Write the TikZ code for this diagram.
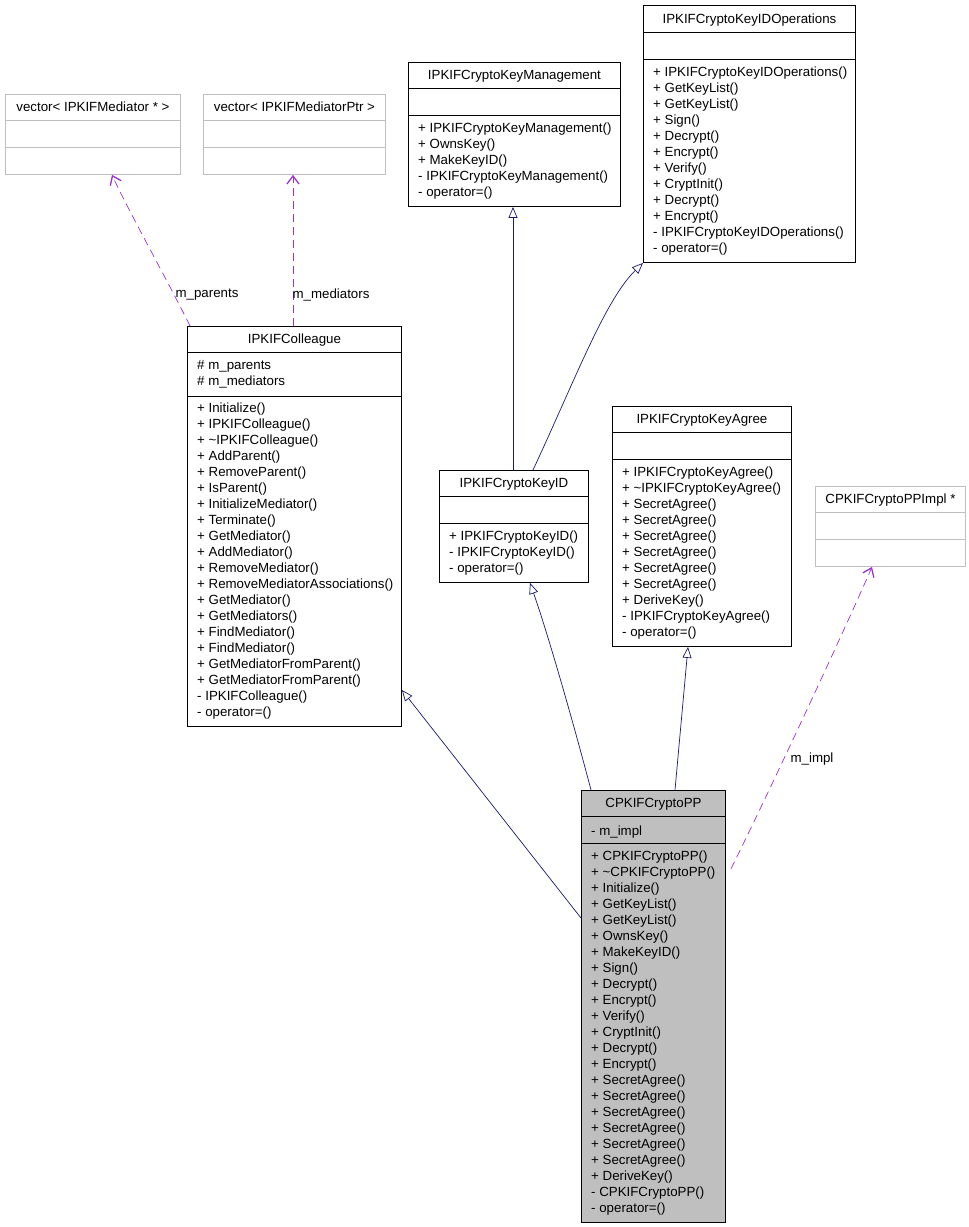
\documentclass[tikz,border=0pt]{standalone}
\usepackage{fontspec}
\setmainfont{Liberation Sans}
\usetikzlibrary{arrows.meta}
\definecolor{inhblue}{HTML}{191970}
\definecolor{usepurple}{HTML}{9A32CD}
\definecolor{lightframe}{HTML}{BFBFBF}
\definecolor{selfgray}{HTML}{BFBFBF}
\begin{document}
\begin{tikzpicture}[x=1pt, y=-1pt, font=\fontsize{13.3}{16}\selectfont,
  classbox/.style={draw, anchor=north west, inner sep=0pt, line width=0.9pt},
  extbox/.style={classbox, draw=lightframe},
  title/.style={anchor=base, inner sep=0pt},
  members/.style={anchor=north west, inner sep=0pt, align=left, execute at begin node=\rule{0pt}{11pt}},
  inherit/.style={draw=inhblue, line width=0.7pt, -{Triangle[open, length=11pt, width=9pt]}},
  uses/.style={draw=usepurple, line width=0.7pt, dash pattern=on 8pt off 5pt, -{Straight Barb[length=8pt, width=12pt, line width=1.3pt]}},
  lbl/.style={inner sep=1pt}]
  \useasboundingbox (0,0) rectangle (969,1227);

  % external containers
  \node[extbox, minimum width=175pt, minimum height=80pt] (vecmed) at (5,94) {};
  \draw[lightframe, line width=0.9pt] ([yshift=-26pt]vecmed.north west) -- ([yshift=-26pt]vecmed.north east);
  \draw[lightframe, line width=0.9pt] ([yshift=-53pt]vecmed.north west) -- ([yshift=-53pt]vecmed.north east);
  \node[title] at ([yshift=-17.5pt]vecmed.north) {vector< IPKIFMediator * >};

  \node[extbox, minimum width=182pt, minimum height=80pt] (vecptr) at (203,94) {};
  \draw[lightframe, line width=0.9pt] ([yshift=-26pt]vecptr.north west) -- ([yshift=-26pt]vecptr.north east);
  \draw[lightframe, line width=0.9pt] ([yshift=-53pt]vecptr.north west) -- ([yshift=-53pt]vecptr.north east);
  \node[title] at ([yshift=-17.5pt]vecptr.north) {vector< IPKIFMediatorPtr >};

  \node[extbox, minimum width=150pt, minimum height=80pt] (impl) at (815,486) {};
  \draw[lightframe, line width=0.9pt] ([yshift=-26pt]impl.north west) -- ([yshift=-26pt]impl.north east);
  \draw[lightframe, line width=0.9pt] ([yshift=-53pt]impl.north west) -- ([yshift=-53pt]impl.north east);
  \node[title] at ([yshift=-17.5pt]impl.north) {CPKIFCryptoPPImpl *};

  % IPKIFCryptoKeyManagement
  \node[classbox, minimum width=212pt, minimum height=144pt] (mgmt) at (408,62) {};
  \draw[line width=0.9pt] ([yshift=-26pt]mgmt.north west) -- ([yshift=-26pt]mgmt.north east);
  \draw[line width=0.9pt] ([yshift=-53pt]mgmt.north west) -- ([yshift=-53pt]mgmt.north east);
  \node[title] at ([yshift=-17.5pt]mgmt.north) {IPKIFCryptoKeyManagement};
  \node[members] at ([xshift=10pt, yshift=-60.5pt]mgmt.north west)
    {+ IPKIFCryptoKeyManagement()\\+ OwnsKey()\\+ MakeKeyID()\\- IPKIFCryptoKeyManagement()\\- operator=()};

  % IPKIFCryptoKeyIDOperations
  \node[classbox, minimum width=212pt, minimum height=257pt] (ops) at (643,5) {};
  \draw[line width=0.9pt] ([yshift=-27pt]ops.north west) -- ([yshift=-27pt]ops.north east);
  \draw[line width=0.9pt] ([yshift=-54pt]ops.north west) -- ([yshift=-54pt]ops.north east);
  \node[title] at ([yshift=-18.5pt]ops.north) {IPKIFCryptoKeyIDOperations};
  \node[members] at ([xshift=10pt, yshift=-61.5pt]ops.north west)
    {+ IPKIFCryptoKeyIDOperations()\\+ GetKeyList()\\+ GetKeyList()\\+ Sign()\\+ Decrypt()\\+ Encrypt()\\+ Verify()\\+ CryptInit()\\+ Decrypt()\\+ Encrypt()\\- IPKIFCryptoKeyIDOperations()\\- operator=()};

  % IPKIFColleague
  \node[classbox, minimum width=214pt, minimum height=400pt] (colleague) at (187,326) {};
  \draw[line width=0.9pt] ([yshift=-26pt]colleague.north west) -- ([yshift=-26pt]colleague.north east);
  \draw[line width=0.9pt] ([yshift=-70pt]colleague.north west) -- ([yshift=-70pt]colleague.north east);
  \node[title] at ([yshift=-17.5pt]colleague.north) {IPKIFColleague};
  \node[members] at ([xshift=10pt, yshift=-34.5pt]colleague.north west)
    {\# m\_parents\\\# m\_mediators};
  \node[members] at ([xshift=10pt, yshift=-76.5pt]colleague.north west)
    {+ Initialize()\\+ IPKIFColleague()\\+ \textasciitilde IPKIFColleague()\\+ AddParent()\\+ RemoveParent()\\+ IsParent()\\+ InitializeMediator()\\+ Terminate()\\+ GetMediator()\\+ AddMediator()\\+ RemoveMediator()\\+ RemoveMediatorAssociations()\\+ GetMediator()\\+ GetMediators()\\+ FindMediator()\\+ FindMediator()\\+ GetMediatorFromParent()\\+ GetMediatorFromParent()\\- IPKIFColleague()\\- operator=()};

  % IPKIFCryptoKeyID
  \node[classbox, minimum width=149pt, minimum height=112pt] (keyid) at (439,470) {};
  \draw[line width=0.9pt] ([yshift=-26pt]keyid.north west) -- ([yshift=-26pt]keyid.north east);
  \draw[line width=0.9pt] ([yshift=-53pt]keyid.north west) -- ([yshift=-53pt]keyid.north east);
  \node[title] at ([yshift=-17.5pt]keyid.north) {IPKIFCryptoKeyID};
  \node[members] at ([xshift=10pt, yshift=-60.5pt]keyid.north west)
    {+ IPKIFCryptoKeyID()\\- IPKIFCryptoKeyID()\\- operator=()};

  % IPKIFCryptoKeyAgree
  \node[classbox, minimum width=179pt, minimum height=240pt] (agree) at (612,406) {};
  \draw[line width=0.9pt] ([yshift=-26pt]agree.north west) -- ([yshift=-26pt]agree.north east);
  \draw[line width=0.9pt] ([yshift=-53pt]agree.north west) -- ([yshift=-53pt]agree.north east);
  \node[title] at ([yshift=-17.5pt]agree.north) {IPKIFCryptoKeyAgree};
  \node[members] at ([xshift=10pt, yshift=-60.5pt]agree.north west)
    {+ IPKIFCryptoKeyAgree()\\+ \textasciitilde IPKIFCryptoKeyAgree()\\+ SecretAgree()\\+ SecretAgree()\\+ SecretAgree()\\+ SecretAgree()\\+ SecretAgree()\\+ SecretAgree()\\+ DeriveKey()\\- IPKIFCryptoKeyAgree()\\- operator=()};

  % CPKIFCryptoPP
  \node[classbox, fill=selfgray, minimum width=144pt, minimum height=432pt] (cpp) at (581,790) {};
  \draw[line width=0.9pt] ([yshift=-26pt]cpp.north west) -- ([yshift=-26pt]cpp.north east);
  \draw[line width=0.9pt] ([yshift=-53pt]cpp.north west) -- ([yshift=-53pt]cpp.north east);
  \node[title] at ([yshift=-17.5pt]cpp.north) {CPKIFCryptoPP};
  \node[members] at ([xshift=10pt, yshift=-34.5pt]cpp.north west) {- m\_impl};
  \node[members] at ([xshift=10pt, yshift=-60.5pt]cpp.north west)
    {+ CPKIFCryptoPP()\\+ \textasciitilde CPKIFCryptoPP()\\+ Initialize()\\+ GetKeyList()\\+ GetKeyList()\\+ OwnsKey()\\+ MakeKeyID()\\+ Sign()\\+ Decrypt()\\+ Encrypt()\\+ Verify()\\+ CryptInit()\\+ Decrypt()\\+ Encrypt()\\+ SecretAgree()\\+ SecretAgree()\\+ SecretAgree()\\+ SecretAgree()\\+ SecretAgree()\\+ SecretAgree()\\+ DeriveKey()\\- CPKIFCryptoPP()\\- operator=()};

  % inheritance
  \draw[inherit] ([yshift=-128pt]cpp.north west) -- ([yshift=-364pt]colleague.north east);
  \draw[inherit] ([xshift=10pt]cpp.north west) .. controls (578,740) and (550,640) .. ([xshift=91pt]keyid.south west);
  \draw[inherit] ([xshift=94pt]cpp.north west) -- ([xshift=76pt]agree.south west);
  \draw[inherit] ([xshift=74pt]keyid.north west) -- ([xshift=105pt]mgmt.south west);
  \draw[inherit] ([xshift=94pt]keyid.north west) .. controls (575,380) and (605,300) .. (ops.south west);

  % usage
  \draw[uses] ([xshift=3pt]colleague.north west) .. controls (170,285) and (128,210) .. ([xshift=107pt]vecmed.south west);
  \node[lbl] (lparents) at (207,295) {m\_parents};
  \draw[uses] ([xshift=106pt]colleague.north west) -- ([xshift=90pt]vecptr.south west);
  \node[lbl] (lmediators) at (331,295) {m\_mediators};
  \draw[uses] ([xshift=5pt, yshift=-79pt]cpp.north east) .. controls (770,790) and (840,640) .. ([xshift=57pt]impl.south west);
  \node[lbl] (limpl) at (812,759) {m\_impl};
\end{tikzpicture}
\end{document}
